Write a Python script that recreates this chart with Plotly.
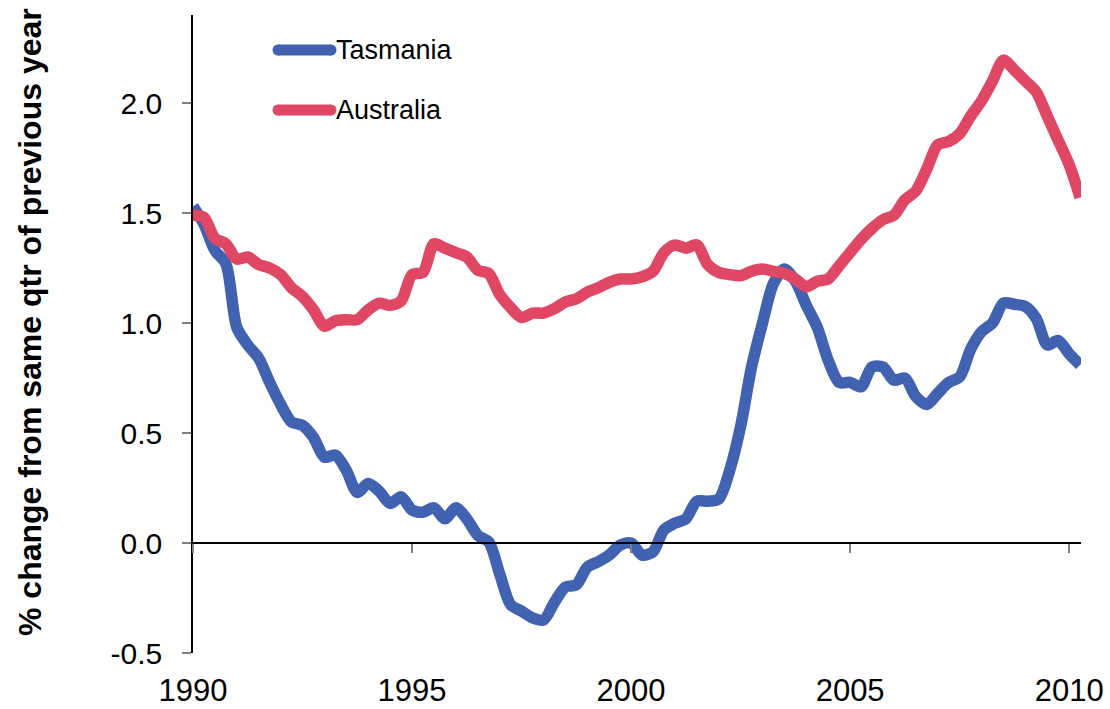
import plotly.graph_objects as go

# Quarterly dates 1990 Q1 .. 2010 Q2 (decimal years)
years = [1990 + 0.25 * k for k in range(82)]

tasmania = [1.53, 1.45, 1.33, 1.27, 0.98, 0.90, 0.84, 0.73, 0.63, 0.55,
            0.535, 0.48, 0.39, 0.40, 0.33, 0.23, 0.27, 0.235, 0.18, 0.21,
            0.15, 0.14, 0.16, 0.11, 0.16, 0.11, 0.035, 0.005, -0.14, -0.28,
            -0.31, -0.34, -0.35, -0.27, -0.20, -0.19, -0.11, -0.085, -0.055, -0.01,
            0.0, -0.055, -0.04, 0.06, 0.09, 0.11, 0.19, 0.19, 0.20, 0.33,
            0.53, 0.80, 1.00, 1.18, 1.245, 1.19, 1.08, 0.98, 0.83, 0.73,
            0.73, 0.71, 0.80, 0.80, 0.74, 0.75, 0.665, 0.63, 0.68, 0.73,
            0.755, 0.88, 0.96, 1.00, 1.09, 1.085, 1.075, 1.02, 0.90, 0.92,
            0.86, 0.81]

australia = [1.49, 1.48, 1.385, 1.36, 1.29, 1.30, 1.265, 1.25, 1.22, 1.16,
             1.12, 1.06, 0.985, 1.01, 1.015, 1.015, 1.06, 1.09, 1.08, 1.10,
             1.22, 1.23, 1.36, 1.34, 1.32, 1.30, 1.24, 1.225, 1.13, 1.07,
             1.025, 1.045, 1.045, 1.065, 1.095, 1.11, 1.14, 1.16, 1.185, 1.20,
             1.20, 1.21, 1.235, 1.32, 1.355, 1.34, 1.355, 1.265, 1.23, 1.22,
             1.215, 1.235, 1.245, 1.235, 1.225, 1.20, 1.165, 1.19, 1.20, 1.26,
             1.32, 1.38, 1.43, 1.47, 1.49, 1.56, 1.60, 1.70, 1.81, 1.825,
             1.86, 1.94, 2.01, 2.10, 2.195, 2.15, 2.10, 2.05, 1.94, 1.83,
             1.72, 1.57]

x_ticks = [1990, 1995, 2000, 2005, 2010]
y_ticks = [-0.5, 0.0, 0.5, 1.0, 1.5, 2.0]
y_ticktext = ["-0.5", "0.0", "0.5", "1.0", "1.5", "2.0"]

series_names = ["Tasmania", "Australia"]
colors = ["#4162B0", "#E04765"]

FONT = "Liberation Sans, Arial, sans-serif"

fig = go.Figure()
for name, vals, col in zip(series_names, [tasmania, australia], colors):
    fig.add_trace(go.Scatter(x=years, y=vals, mode="lines", name=name,
                             line=dict(color=col, width=11.5, shape="spline", smoothing=0.8),
                             showlegend=False, hoverinfo="skip"))

# invisible helper trace so the tick-only axis at y=0 is drawn
fig.add_trace(go.Scatter(x=[years[0]], y=[0], xaxis="x2", mode="lines",
                         showlegend=False, hoverinfo="skip", opacity=0))

y_min, y_max = -0.5, 2.4
zero_pos = (0 - y_min) / (y_max - y_min)

fig.update_layout(
    width=1110, height=709,
    margin=dict(l=193, r=29, t=15, b=56, autoexpand=False),
    paper_bgcolor="white", plot_bgcolor="white",
    font=dict(family=FONT, color="black"),
    xaxis=dict(range=[1990, 2010.27], tickvals=x_ticks, showgrid=False,
               zeroline=False, showline=False, ticks="", automargin=False,
               tickfont=dict(size=31, family=FONT), ticklabelstandoff=16),
    xaxis2=dict(range=[1990, 2010.27], overlaying="x", anchor="free",
                position=zero_pos, tickvals=x_ticks, showgrid=False,
                zeroline=False, showline=True, linecolor="black", linewidth=1.5,
                ticks="outside", ticklen=9, tickcolor="#808080", tickwidth=1.5,
                showticklabels=False, matches="x", automargin=False),
    yaxis=dict(range=[y_min, y_max], tickvals=y_ticks, ticktext=y_ticktext,
               showgrid=False, zeroline=False, showline=True, linecolor="black",
               linewidth=1.5, ticks="outside", ticklen=9, tickcolor="#808080",
               tickwidth=1.5, tickfont=dict(size=30, family=FONT),
               ticklabelstandoff=14, automargin=False),
)

# y-axis title
fig.add_annotation(text="<b>% change from same qtr of previous year</b>",
                   xref="paper", yref="paper", x=(30 - 193) / 888,
                   y=(653 - 322) / 638, textangle=-90, showarrow=False,
                   font=dict(size=32, family=FONT, color="black"),
                   xanchor="center", yanchor="middle")

# legend (manual)
leg_y = [(653 - 50) / 638, (653 - 110) / 638]
for name, col, ly in zip(series_names, colors, leg_y):
    fig.add_shape(type="line", xref="paper", yref="paper",
                  x0=(278 - 193) / 888, x1=(331 - 193) / 888, y0=ly, y1=ly,
                  line=dict(color=col, width=11))
    for cx in [278, 331]:
        fig.add_shape(type="circle", xref="paper", yref="paper",
                      x0=(cx - 5.5 - 193) / 888, x1=(cx + 5.5 - 193) / 888,
                      y0=ly - 5.5 / 638, y1=ly + 5.5 / 638,
                      fillcolor=col, line=dict(width=0))
    fig.add_annotation(text=name, xref="paper", yref="paper",
                       x=(334 - 193) / 888, y=ly, showarrow=False,
                       xanchor="left", yanchor="middle",
                       font=dict(size=27, family=FONT, color="black"))

fig.write_html("out.html", config={"displayModeBar": False},
               post_script="document.body.style.margin='0';document.body.style.overflow='hidden';")
